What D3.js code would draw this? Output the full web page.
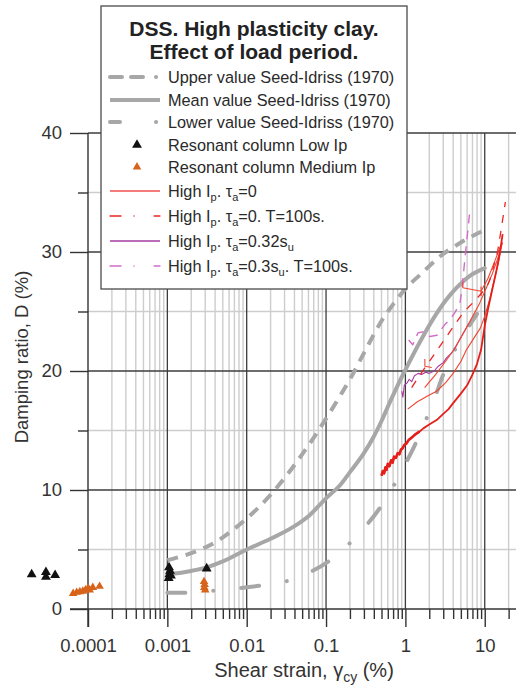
<!DOCTYPE html>
<html>
<head>
<meta charset="utf-8">
<script src="https://cdn.jsdelivr.net/npm/d3@7"></script>
<style>
  body { margin: 0; background: #fff; }
  svg { display: block; }
  text { font-family: "Liberation Sans", Arial, sans-serif; }
</style>
</head>
<body>
<svg id="chart" width="516" height="689"></svg>
<script>
// ---- axis ticks ----
const xTickValues = [0.0001, 0.001, 0.01, 0.1, 1, 10];
const xTickLabels = ["0.0001", "0.001", "0.01", "0.1", "1", "10"];
const yTickValues = [0, 10, 20, 30, 40];
const yMinorTickValues = [5, 15, 25, 35];

// ---- Seed-Idriss (1970) damping curves: [shear strain %, damping %] ----
const upperSeedIdriss = [[0.001,4.1],[0.002,4.7],[0.004,5.6],[0.006,6.4],[0.01,7.6],[0.02,9.6],[0.03,11.0],[0.05,13.0],[0.07,14.4],[0.1,16.0],[0.15,17.9],[0.2,19.3],[0.3,21.5],[0.5,24.2],[0.7,25.6],[1.0,26.9],[1.6,28.2],[2.7,29.6],[5.0,30.8],[9.6,31.8]];
const meanSeedIdriss = [[0.001,2.9],[0.002,3.2],[0.00313,3.5],[0.005,4.0],[0.01,5.0],[0.02,5.9],[0.0386,6.9],[0.06,7.8],[0.1,9.3],[0.15,10.4],[0.2,11.5],[0.3,13.1],[0.4,14.5],[0.5,15.8],[0.64,17.4],[0.8,18.8],[1.0,20.1],[1.5,22.35],[2.25,24.4],[3.2,25.9],[4.43,27.0],[6.5,28.0],[10,28.65]];
const lowerSeedIdriss = [[0.001,1.37],[0.0017,1.37],[0.004,1.55],[0.0078,1.74],[0.0147,1.96],[0.0304,2.3],[0.063,3.1],[0.107,4.0],[0.19,5.4],[0.31,6.9],[0.478,8.5],[0.69,10.2],[1.0,12.2],[1.32,13.8],[2.36,17.8],[3.0,19.7],[4.0,21.5],[5.6,23.2],[8.0,24.8]];

// ---- resonant column tests ----
const rcLowIp = [[1.95e-5,2.9],[2.95e-5,3.1],[2.95e-5,2.7],[3.85e-5,2.85],[0.00104,2.6],[0.00106,2.9],[0.00108,3.2],[0.00105,3.5],[0.00111,2.8],[0.00313,3.4]];
const rcMediumIp = [[6.5e-5,1.3],[7.2e-5,1.4],[7.9e-5,1.45],[8.6e-5,1.5],[9.3e-5,1.6],[1.0e-4,1.75],[1.05e-4,1.6],[1.15e-4,1.8],[1.4e-4,1.9],[0.0029,2.3],[0.00295,2.05],[0.00292,1.8],[0.003,1.6]];

// ---- DSS tests, high plasticity clay ----
const highIpTa0Main = [[0.50,11.2],[0.52,11.6],[0.54,11.4],[0.56,11.9],[0.58,11.7],[0.60,12.2],[0.63,12.0],[0.66,12.5],[0.69,12.3],[0.72,12.8],[0.76,12.7],[0.80,13.1],[0.84,13.0],[0.88,13.4],[0.92,13.5],[0.97,13.8],[1.03,13.9],[1.1,14.2],[1.2,14.4],[1.35,14.7],[1.5,14.9],[1.7,15.2],[2.0,15.5],[2.5,15.9],[3.0,16.4],[3.5,16.8],[4.0,17.3],[5.0,18.1],[6.0,18.8],[7.0,19.7],[8.0,20.6],[9.0,21.8],[10.0,23.8],[11.0,25.2],[12.5,26.9],[14.0,28.4],[15.5,29.9],[16.8,31.5]];
const highIpTa0RunB = [[1.07,16.8],[1.4,17.4],[1.9,17.9],[2.47,18.3],[3.2,19.0],[4.0,19.8],[5.0,20.8],[5.9,21.8],[7.2,22.7],[8.8,23.6],[10,24.6],[11.5,26.0],[13,27.5],[14.8,29.0],[16.3,30.6]];
const highIpTa0RunC = [[1.75,18.6],[2.4,19.7],[3.2,20.8],[4.0,21.7],[5.2,23.0],[6.8,24.4],[8.5,25.6],[10.5,27.0],[12.5,28.2],[14.5,29.4],[16.8,30.8]];
const highIpTa0RunD = [[1.76,21.0],[1.76,20.4],[2.15,20.3]];
const highIpTa0RunE = [[5.3,27.5],[5.3,27.0],[9.0,26.7],[11,27.8],[13.5,29.3],[16,30.6]];
const highIpTa0RunF = [[9.0,27.1],[9.0,26.3]];
const highIpTa0T100 = [[1.2,18.6],[1.5,19.6],[2.1,21.0],[2.8,22.2],[4.0,23.7],[5.5,25.0],[7.5,25.9],[10.5,27.0],[11.5,27.6],[12.5,28.4],[14.5,30.0],[16.2,32.0],[18.2,34.2]];
const highIpTa032 = [[0.9,18.3],[0.93,17.8],[0.97,18.8],[1.05,19.0],[1.12,19.3],[1.2,19.1],[1.3,19.6],[1.45,19.8],[1.6,19.7],[1.8,19.9],[2.0,19.8],[2.3,20.0],[2.6,20.4],[3.0,20.7],[3.3,21.1],[3.8,21.5],[4.3,22.0],[4.8,22.6],[5.5,23.3],[6.2,23.9]];
const highIpTa03T100 = [[1.1,22.6],[1.24,22.2],[1.44,23.2],[1.7,23.3],[2.03,22.9],[2.49,23.0],[3.14,23.9],[3.63,24.3],[4.2,24.9],[4.87,25.7],[5.2,27.0],[5.45,28.5],[5.78,30.2],[6.1,31.7],[6.5,33.5]];

// ---- legend ----
const legendTitle = ["DSS. High plasticity clay.", "Effect of load period."];
const legendLabels = [
  "Upper value Seed-Idriss (1970)",
  "Mean value Seed-Idriss (1970)",
  "Lower value Seed-Idriss (1970)",
  "Resonant column Low Ip",
  "Resonant column Medium Ip",
  "High I_p. τ_a=0",
  "High I_p. τ_a=0. T=100s.",
  "High I_p. τ_a=0.32s_u",
  "High I_p. τ_a=0.3s_u. T=100s."
];

// ---- styles ----
const GRAY = "#a7a7a7";
const styles = {
  upper:  {stroke: GRAY, width: 4, dash: "11,8", cap: "butt"},
  mean:   {stroke: GRAY, width: 4, dash: null, cap: "round"},
  lower:  {stroke: GRAY, width: 4, dash: "18,28,0.1,28", cap: "round"},
  red:    {stroke: "#e61e1a", width: 1.8, dash: null},
  redBold:{stroke: "#e61e1a", width: 2.6, dash: null},
  redThin:{stroke: "#f0452f", width: 1.1, dash: null},
  redDash:{stroke: "#ee2424", width: 1.3, dash: "8,8"},
  purple: {stroke: "#a63ca0", width: 1.1, dash: null},
  pink:   {stroke: "#d46cc6", width: 1.4, dash: "9,7"}
};

const svg = d3.select("#chart");
const x = d3.scaleLog().domain([1e-4, Math.pow(10, 1.394)]).range([88, 516]);
const y = d3.scaleLinear().domain([0, 40]).range([609, 133]);

// minor decade positions 2..9
const xMinor = [];
for (let e = -4; e <= 1; e++) {
  for (let m = 2; m <= 9; m++) {
    const v = m * Math.pow(10, e);
    if (v <= x.domain()[1]) xMinor.push(v);
  }
}

// ---- grid ----
const grid = svg.append("g");
grid.selectAll(".vminor").data(xMinor).join("line")
  .attr("x1", d => x(d)).attr("x2", d => x(d))
  .attr("y1", y(0)).attr("y2", y(40))
  .attr("stroke", "#cdcdcd").attr("stroke-width", 1.4);
grid.selectAll(".hminor").data(yMinorTickValues).join("line")
  .attr("x1", x(1e-4)).attr("x2", 516)
  .attr("y1", d => y(d)).attr("y2", d => y(d))
  .attr("stroke", "#cdcdcd").attr("stroke-width", 1.4);
grid.selectAll(".vmajor").data(xTickValues.slice(1)).join("line")
  .attr("x1", d => x(d)).attr("x2", d => x(d))
  .attr("y1", y(0)).attr("y2", y(40))
  .attr("stroke", "#3c3c3c").attr("stroke-width", 1.3);
grid.selectAll(".hmajor").data(yTickValues.slice(1)).join("line")
  .attr("x1", x(1e-4)).attr("x2", 516)
  .attr("y1", d => y(d)).attr("y2", d => y(d))
  .attr("stroke", "#3c3c3c").attr("stroke-width", 1.3);

// ---- axes ----
function styleAxis(g) {
  g.selectAll("path.domain").attr("stroke", "#333").attr("stroke-width", 1.4);
  g.selectAll(".tick line").attr("stroke", "#333").attr("stroke-width", 1.4);
  g.selectAll(".tick text").attr("fill", "#333").style("font-size", "18.5px")
    .style("font-family", '"Liberation Sans", Arial, sans-serif');
}
const xAxisMinor = svg.append("g").attr("transform", `translate(0,${y(0)})`)
  .call(d3.axisBottom(x).tickValues(xMinor).tickSize(10).tickFormat(""));
xAxisMinor.select(".domain").remove();
xAxisMinor.selectAll(".tick text").remove();
styleAxis(xAxisMinor);
const xAxis = svg.append("g").attr("transform", `translate(0,${y(0)})`)
  .call(d3.axisBottom(x).tickValues(xTickValues).tickSize(18).tickPadding(12)
    .tickFormat((d, i) => xTickLabels[i]));
xAxis.select(".domain").attr("d", `M70,0H516`);
styleAxis(xAxis);

const yAxisMinor = svg.append("g").attr("transform", `translate(${x(1e-4)},0)`)
  .call(d3.axisLeft(y).tickValues(yMinorTickValues).tickSize(10).tickFormat(""));
yAxisMinor.select(".domain").remove();
yAxisMinor.selectAll(".tick text").remove();
styleAxis(yAxisMinor);
const yAxis = svg.append("g").attr("transform", `translate(${x(1e-4)},0)`)
  .call(d3.axisLeft(y).tickValues(yTickValues).tickSize(18).tickPadding(8)
    .tickFormat(d3.format("d")));
yAxis.select(".domain").attr("d", `M0,${y(0) + 18}V${y(40)}`);
styleAxis(yAxis);

// axis titles
const xTitle = svg.append("text").attr("x", 304).attr("y", 677)
  .attr("text-anchor", "middle").attr("fill", "#333").style("font-size", "20px");
xTitle.append("tspan").text("Shear strain, γ");
xTitle.append("tspan").text("cy").style("font-size", "14px").attr("dy", 5);
xTitle.append("tspan").text(" (%)").attr("dy", -5);

svg.append("text").attr("transform", "translate(28,357) rotate(-90)")
  .attr("text-anchor", "middle").attr("fill", "#333").style("font-size", "18.5px")
  .text("Damping ratio, D (%)");

// ---- curves ----
const smooth = d3.line().x(d => x(d[0])).y(d => y(d[1])).curve(d3.curveMonotoneX);
const straight = d3.line().x(d => x(d[0])).y(d => y(d[1]));
function drawLine(data, st, gen) {
  svg.append("path").datum(data).attr("d", gen)
    .attr("fill", "none").attr("stroke", st.stroke).attr("stroke-width", st.width)
    .attr("stroke-dasharray", st.dash).attr("stroke-linecap", st.cap || "butt")
    .attr("stroke-linejoin", "round");
}
drawLine(upperSeedIdriss, styles.upper, smooth);
drawLine(lowerSeedIdriss, styles.lower, smooth);
drawLine(meanSeedIdriss, styles.mean, smooth);

drawLine(highIpTa032, styles.purple, straight);
drawLine(highIpTa03T100, styles.pink, straight);
drawLine(highIpTa0RunB, styles.redThin, straight);
drawLine(highIpTa0RunC, styles.redThin, straight);
drawLine(highIpTa0RunD, styles.redThin, straight);
drawLine(highIpTa0RunE, styles.redThin, straight);
drawLine(highIpTa0RunF, styles.redThin, straight);
drawLine(highIpTa0T100, styles.redDash, straight);
drawLine(highIpTa0Main, styles.red, straight);
// the noisy low-strain part of the main test is traced heavier
drawLine(highIpTa0Main.filter(d => d[0] <= 1.5), styles.redBold, straight);

// ---- resonant column markers ----
const triBlack = d3.symbol(d3.symbolTriangle, 42);
const triOrange = d3.symbol(d3.symbolTriangle, 32);
svg.append("g").selectAll("path").data(rcMediumIp).join("path")
  .attr("d", triOrange).attr("fill", "#d8641c")
  .attr("transform", d => `translate(${x(d[0])},${y(d[1])})`);
svg.append("g").selectAll("path").data(rcLowIp).join("path")
  .attr("d", triBlack).attr("fill", "#111")
  .attr("transform", d => `translate(${x(d[0])},${y(d[1])})`);

// ---- legend ----
const lg = svg.append("g");
lg.append("rect").attr("x", 101).attr("y", 6).attr("width", 306).attr("height", 283)
  .attr("fill", "#fff").attr("stroke", "#4a4a4a").attr("stroke-width", 1.3);
lg.selectAll(".title").data(legendTitle).join("text")
  .attr("x", 254).attr("y", (d, i) => 36 + i * 23)
  .attr("text-anchor", "middle").attr("fill", "#222")
  .style("font-size", "21px").style("font-weight", "bold")
  .text(d => d);

const rowY = [77, 100, 122, 145, 167, 191, 216, 241, 266];
const rowStyles = [styles.upper, styles.mean, styles.lower, "black", "orange",
  {stroke: "#f05050", width: 1.3}, {stroke: "#ee2424", width: 1.3, dash: "11,13,0.1,20"},
  {stroke: "#a63ca0", width: 1.3}, {stroke: "#d46cc6", width: 1.4, dash: "11,13,0.1,20"}];

legendLabels.forEach((label, i) => {
  const cy = rowY[i];
  const st = rowStyles[i];
  if (st === "black" || st === "orange") {
    lg.append("path").attr("d", st === "black" ? triBlack : triOrange)
      .attr("fill", st === "black" ? "#111" : "#d8641c")
      .attr("transform", `translate(137,${cy})`);
  } else {
    let dash = st.dash;
    if (i === 0) dash = "12,9,12,13,0.1,20";
    if (i === 2) dash = "10,36,0.1,20";
    lg.append("line").attr("x1", 110).attr("x2", 160).attr("y1", cy).attr("y2", cy)
      .attr("stroke", st.stroke).attr("stroke-width", st.width)
      .attr("stroke-dasharray", dash)
      .attr("stroke-linecap", (i === 0 || i === 2 || dash) ? "round" : "butt");
  }
  const t = lg.append("text").attr("x", 168).attr("y", cy + 5.5)
    .attr("fill", "#2a2a2a").style("font-size", "16.3px");
  // "_x" marks a one-letter subscript
  const parts = label.split(/_(\w)/);
  let lowered = false;
  parts.forEach((p, k) => {
    if (p === "") return;
    const ts = t.append("tspan").text(p);
    if (k % 2 === 1) {
      ts.style("font-size", "11px").attr("dy", 4);
      lowered = true;
    } else if (lowered) {
      ts.attr("dy", -4);
      lowered = false;
    }
  });
});
</script>
</body>
</html>
